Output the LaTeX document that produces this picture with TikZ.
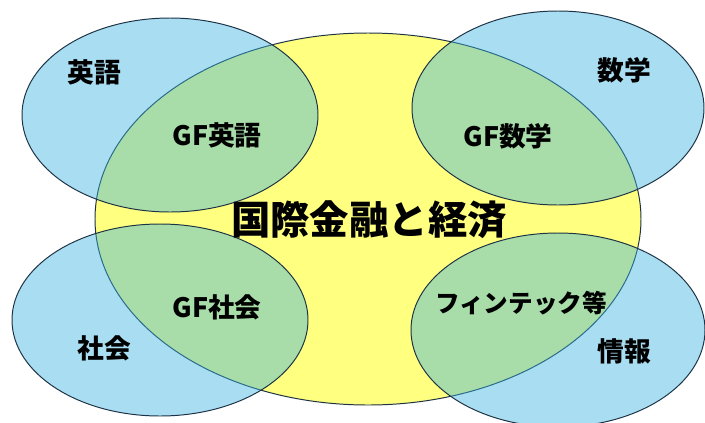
\documentclass[tikz,border=0pt]{standalone}
\usepackage{fontspec}
\setmainfont{Noto Sans CJK JP}
\definecolor{cream}{RGB}{255,255,128}
\definecolor{skyblue}{RGB}{54,178,226}
\definecolor{rimline}{RGB}{30,52,70}
\tikzset{
  bubble/.style={fill=skyblue, fill opacity=0.43, draw=rimline, draw opacity=1, line width=0.7pt},
  subject/.style={font=\bfseries\fontsize{19}{19}\selectfont, inner sep=0pt},
  theme/.style={font=\bfseries\fontsize{28}{28}\selectfont, inner sep=0pt}
}
\begin{document}
\begin{tikzpicture}[x=0.025cm,y=-0.025cm]
			\useasboundingbox (0,0) rectangle (705,422);
			\fill[white] (0,0) rectangle (705,422);
			% centre field
			\filldraw[fill=cream, draw=rimline, line width=0.7pt] (368,219) ellipse (273 and 186);
			% subject fields
			\filldraw[bubble] (170,115) ellipse (148 and 97);
			\filldraw[bubble] (558,108) ellipse (146 and 97);
			\filldraw[bubble] (160,320) ellipse (148 and 96);
			\filldraw[bubble] (558,330) ellipse (147 and 97);
			% labels
			\node[theme] (kokusai) at (369,220) {国際金融と経済};
			\node[subject] (eigo) at (94,72) {英語};
			\node[subject] (gfeigo) at (217,135) {GF英語};
			\node[subject] (sugaku) at (624,70) {数学};
			\node[subject] (gfsugaku) at (508,136) {GF数学};
			\node[subject] (gfshakai) at (217,307) {GF社会};
			\node[subject] (shakai) at (104,348) {社会};
			\node[subject, font=\bfseries\fontsize{17.5}{17.5}\selectfont] (fintech) at (521,303) {フィンテック等};
			\node[subject] (joho) at (624,351) {情報};
		\end{tikzpicture}
\end{document}
